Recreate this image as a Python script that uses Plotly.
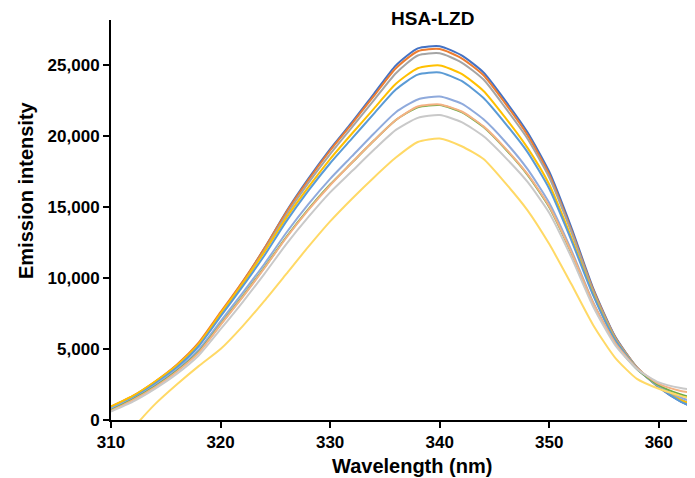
import plotly.graph_objects as go

wavelength = [310, 312, 314, 316, 318, 320, 322, 324, 326, 328, 330, 332, 334, 336,
              338, 340, 342, 344, 346, 348, 350, 352, 354, 356, 358, 360, 362, 364]

s1 = [900, 1650, 2650, 3850, 5350, 7500, 9700, 12100, 14700, 17000, 19100, 21000, 23000, 25000,
      26200, 26350, 25700, 24500, 22500, 20300, 17500, 13600, 9300, 5900, 3700, 2300, 1300, 600]
s2 = [950, 1700, 2700, 3900, 5450, 7600, 9750, 12100, 14650, 16900, 19000, 20900, 22850, 24800,
      26000, 26150, 25500, 24300, 22300, 20100, 17300, 13400, 9200, 5850, 3700, 2350, 1400, 750]
s3 = [850, 1600, 2600, 3800, 5300, 7400, 9600, 11950, 14450, 16700, 18750, 20650, 22550, 24450,
      25700, 25850, 25200, 24000, 22000, 19850, 17100, 13300, 9100, 5800, 3700, 2350, 1450, 800]
s4 = [950, 1700, 2700, 3850, 5350, 7500, 9600, 11850, 14250, 16400, 18400, 20200, 21950, 23700,
      24800, 25000, 24400, 23200, 21300, 19200, 16600, 12900, 8900, 5700, 3650, 2350, 1400, 900]
s5 = [800, 1550, 2550, 3700, 5200, 7300, 9400, 11600, 14000, 16150, 18100, 19850, 21600, 23300,
      24350, 24500, 23900, 22700, 20900, 18900, 16300, 12700, 8800, 5650, 3650, 2350, 1300, 650]
s6 = [800, 1500, 2450, 3550, 4950, 6950, 8950, 11000, 13200, 15200, 17000, 18600, 20200, 21700,
      22600, 22800, 22300, 21200, 19600, 17700, 15300, 12000, 8300, 5400, 3600, 2400, 1600, 1000]
s7 = [700, 1450, 2350, 3450, 4800, 6750, 8700, 10750, 12900, 14850, 16600, 18150, 19700, 21150,
      22050, 22200, 21700, 20650, 19100, 17300, 15000, 11800, 8200, 5400, 3600, 2450, 1800, 1400]
s8 = [650, 1400, 2300, 3400, 4750, 6700, 8650, 10700, 12850, 14800, 16550, 18150, 19700, 21150,
      22100, 22250, 21750, 20700, 19150, 17350, 15050, 11850, 8250, 5450, 3650, 2550, 2050, 1800]
s9 = [600, 1300, 2200, 3250, 4550, 6400, 8300, 10300, 12400, 14300, 16050, 17550, 19050, 20450,
      21300, 21500, 21000, 20000, 18500, 16800, 14600, 11500, 8000, 5300, 3600, 2650, 2250, 2050]
s10 = [-2500, -600, 1100, 2500, 3800, 5000, 6600, 8400, 10300, 12200, 14000, 15600, 17100, 18500,
       19600, 19850, 19300, 18400, 16700, 14800, 12400, 9600, 6700, 4400, 2900, 2200, 1700, 1300]

series = [s1, s2, s3, s4, s5, s6, s7, s8, s9, s10]
colors = ["#4472C4", "#ED7D31", "#A5A5A5", "#FFC000", "#5B9BD5",
          "#8FAADC", "#70AD47", "#F4B183", "#C9C9C9", "#FFD966"]

x_ticks = [310, 320, 330, 340, 350, 360]
y_ticks = [0, 5000, 10000, 15000, 20000, 25000]

# page body has an 8px margin; figure sized to fill the visible window
OFF = 8
W, H = 695 - OFF, 478 - OFF
ML, MR, MT, MB = 111 - OFF, 0, 20 - OFF, 478 - 420
PW, PH = W - ML - MR, H - MT - MB


def px_x(sx):
    return (sx - OFF - ML) / PW


def px_y(sy):
    return 1 - (sy - OFF - MT) / PH


fig = go.Figure()
for vals, c in zip(series, colors):
    fig.add_trace(go.Scatter(x=wavelength, y=vals, mode="lines",
                             line=dict(color=c, width=2, shape="spline", smoothing=0.6),
                             showlegend=False, hoverinfo="skip"))

font_family = "Liberation Sans, Arial, sans-serif"
fig.update_layout(
    width=W, height=H,
    margin=dict(l=ML, r=MR, t=MT, b=MB, autoexpand=False),
    paper_bgcolor="white", plot_bgcolor="white",
    font=dict(family=font_family, color="black"),
    xaxis=dict(range=[310, 363.3], tickvals=x_ticks, ticktext=[f"<b>{v}</b>" for v in x_ticks],
               showgrid=False, zeroline=False, showline=True, linecolor="black", linewidth=2,
               ticks="outside", ticklen=6, tickwidth=2, tickcolor="black",
               tickfont=dict(size=17), automargin=False),
    yaxis=dict(range=[0, 28200], tickvals=y_ticks, ticktext=[f"<b>{v:,}</b>" for v in y_ticks],
               showgrid=False, zeroline=False, showline=True, linecolor="black", linewidth=2,
               ticks="outside", ticklen=6, tickwidth=2, tickcolor="black",
               tickfont=dict(size=17), automargin=False),
    annotations=[
        dict(text="<b>HSA-LZD</b>", xref="paper", yref="paper",
             x=px_x(432), y=px_y(18),
             xanchor="center", yanchor="middle", showarrow=False, font=dict(size=19)),
        dict(text="<b>Wavelength (nm)</b>", xref="paper", yref="paper",
             x=px_x(412), y=px_y(466),
             xanchor="center", yanchor="middle", showarrow=False, font=dict(size=20)),
        dict(text="<b>Emission intensity</b>", xref="paper", yref="paper",
             x=px_x(26), y=px_y(190),
             xanchor="center", yanchor="middle", showarrow=False, textangle=-90,
             font=dict(size=20)),
    ],
)

fig.write_html("out.html")
